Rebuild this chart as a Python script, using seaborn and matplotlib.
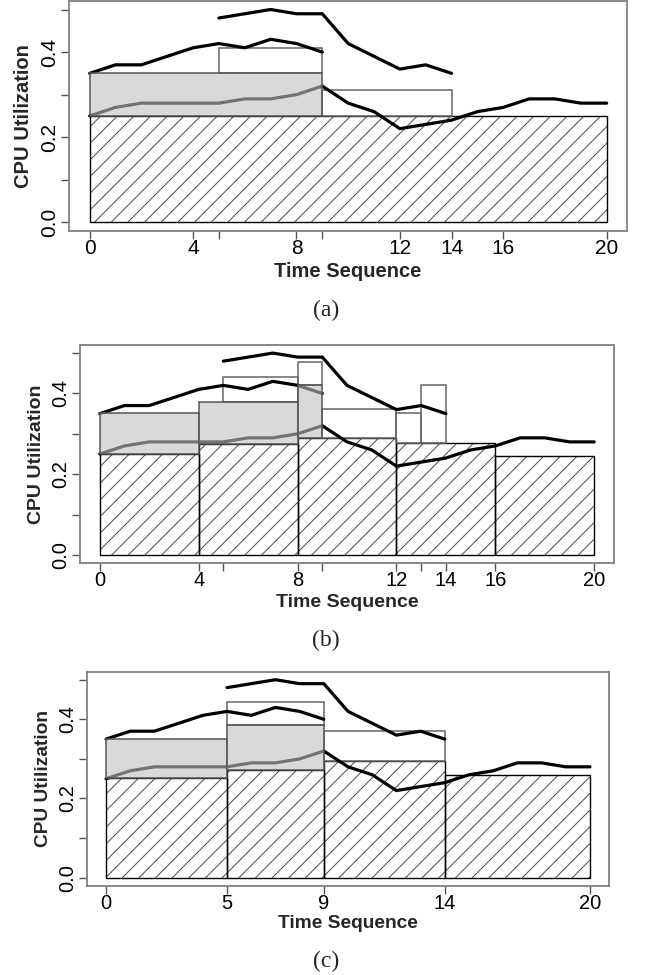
import matplotlib
matplotlib.use("Agg")
import matplotlib.pyplot as plt
import seaborn as sns
import pandas as pd

# ---------------- data ----------------
time_upper1 = [0, 1, 2, 3, 4, 5, 6, 7, 8, 9]
util_upper1 = [0.35, 0.37, 0.37, 0.39, 0.41, 0.42, 0.41, 0.43, 0.42, 0.40]
time_upper2 = [5, 6, 7, 8, 9, 10, 11, 12, 13, 14]
util_upper2 = [0.48, 0.49, 0.50, 0.49, 0.49, 0.42, 0.39, 0.36, 0.37, 0.35]
time_lower = list(range(21))
util_lower = [0.25, 0.27, 0.28, 0.28, 0.28, 0.28, 0.29, 0.29, 0.30, 0.32, 0.28,
              0.26, 0.22, 0.23, 0.24, 0.26, 0.27, 0.29, 0.29, 0.28, 0.28]

# panel (a)
a_base_start = [0]
a_base_end = [20]
a_base_top = [0.25]
a_gray_start = [0]
a_gray_end = [9]
a_gray_low = [0.25]
a_gray_high = [0.35]
a_extra_start = [5, 9]
a_extra_end = [9, 14]
a_extra_low = [0.35, 0.25]
a_extra_high = [0.41, 0.31]
a_ticks = [0, 4, 5, 8, 9, 12, 14, 16, 20]
a_ticklabels = ["0", "4", "", "8", "", "12", "14", "16", "20"]

# panel (b)
b_base_start = [0, 4, 8, 12, 16]
b_base_end = [4, 8, 12, 16, 20]
b_base_top = [0.251, 0.274, 0.289, 0.277, 0.245]
b_gray_start = [0, 4, 8]
b_gray_end = [4, 8, 9]
b_gray_low = [0.251, 0.274, 0.289]
b_gray_high = [0.351, 0.379, 0.42]
b_extra_start = [5, 8, 9, 12, 13]
b_extra_end = [8, 9, 12, 13, 14]
b_extra_low = [0.379, 0.42, 0.289, 0.277, 0.277]
b_extra_high = [0.44, 0.479, 0.362, 0.351, 0.421]
b_ticks = [0, 4, 5, 8, 9, 12, 13, 14, 16, 20]
b_ticklabels = ["0", "4", "", "8", "", "12", "", "14", "16", "20"]

# panel (c)
c_base_start = [0, 5, 9, 14]
c_base_end = [5, 9, 14, 20]
c_base_top = [0.251, 0.273, 0.295, 0.259]
c_gray_start = [0, 5]
c_gray_end = [5, 9]
c_gray_low = [0.251, 0.273]
c_gray_high = [0.35, 0.386]
c_extra_start = [5, 9]
c_extra_end = [9, 14]
c_extra_low = [0.386, 0.295]
c_extra_high = [0.444, 0.37]
c_ticks = [0, 5, 9, 14, 20]
c_ticklabels = ["0", "5", "9", "14", "20"]

y_ticks = [0.0, 0.1, 0.2, 0.3, 0.4, 0.5]
y_ticklabels = ["0.0", "", "0.2", "", "0.4", ""]
captions = ["(a)", "(b)", "(c)"]

# ---------------- style ----------------
sns.set_theme(style="ticks")
plt.rcParams["font.family"] = ["Liberation Sans", "DejaVu Sans"]
plt.rcParams["hatch.linewidth"] = 0.7

W, H = 647, 975
fig = plt.figure(figsize=(W / 100, H / 100), dpi=100)


def add_px_axes(l, r, t, b):
    return fig.add_axes([l / W, 1 - b / H, (r - l) / W, (b - t) / H])


def draw_panel(ax, base, gray, extra, ticks, ticklabels, fs_tick):
    bs, be, bt = base
    widths = [e - s for s, e in zip(bs, be)]
    # hatched base
    ax.bar(bs, bt, width=widths, align="edge", color="none",
           edgecolor="#4a4a4a", linewidth=0, hatch="//", zorder=1)
    ax.bar(bs, bt, width=widths, align="edge", color="none",
           edgecolor="black", linewidth=1.0, zorder=1.5)
    # white outline extras
    es, ee, el, eh = extra
    ax.bar(es, [h - l for l, h in zip(el, eh)], bottom=el,
           width=[e - s for s, e in zip(es, ee)], align="edge",
           color="none", edgecolor="#666666", linewidth=1.1, zorder=2)
    # lines
    df1 = pd.DataFrame({"t": time_upper1, "u": util_upper1})
    df2 = pd.DataFrame({"t": time_upper2, "u": util_upper2})
    df3 = pd.DataFrame({"t": time_lower, "u": util_lower})
    for df in (df1, df2, df3):
        sns.lineplot(data=df, x="t", y="u", color="black", linewidth=2.3,
                     ax=ax, zorder=3)
    # semi-transparent gray blocks
    gs, ge, gl, gh = gray
    ax.bar(gs, [h - l for l, h in zip(gl, gh)], bottom=gl,
           width=[e - s for s, e in zip(gs, ge)], align="edge",
           facecolor=(193 / 255, 193 / 255, 193 / 255, 0.6),
           edgecolor="#555555", linewidth=1.1, zorder=4)

    ax.set_xlim(-0.8, 20.8)
    ax.set_ylim(-0.02, 0.52)
    ax.set_xticks(ticks)
    ax.set_xticklabels(ticklabels, fontsize=fs_tick)
    ax.set_yticks(y_ticks)
    ax.set_yticklabels(y_ticklabels, fontsize=fs_tick, rotation=90,
                       va="center")
    ax.tick_params(axis="both", direction="out", length=5.5, width=1.0,
                   color="#555555", labelcolor="black")
    ax.tick_params(axis="x", pad=0.5)
    ax.tick_params(axis="y", pad=1.5)
    ax.set_xlabel("")
    ax.set_ylabel("")
    for sp in ax.spines.values():
        sp.set_visible(True)
        sp.set_color("#808080")
        sp.set_linewidth(1.3)


panels = [
    dict(px=(69, 627.3, 1, 230.8),
         base=(a_base_start, a_base_end, a_base_top),
         gray=(a_gray_start, a_gray_end, a_gray_low, a_gray_high),
         extra=(a_extra_start, a_extra_end, a_extra_low, a_extra_high),
         ticks=a_ticks, labels=a_ticklabels, fs_tick=15, fs_lab=14.5,
         ylab_x=24, xlab_y=271.5, cap_y=310),
    dict(px=(80, 614, 345, 563),
         base=(b_base_start, b_base_end, b_base_top),
         gray=(b_gray_start, b_gray_end, b_gray_low, b_gray_high),
         extra=(b_extra_start, b_extra_end, b_extra_low, b_extra_high),
         ticks=b_ticks, labels=b_ticklabels, fs_tick=14.5, fs_lab=14,
         ylab_x=36.5, xlab_y=602.7, cap_y=640.5),
    dict(px=(86.7, 609.3, 671.8, 885.6),
         base=(c_base_start, c_base_end, c_base_top),
         gray=(c_gray_start, c_gray_end, c_gray_low, c_gray_high),
         extra=(c_extra_start, c_extra_end, c_extra_low, c_extra_high),
         ticks=c_ticks, labels=c_ticklabels, fs_tick=14.5, fs_lab=13.8,
         ylab_x=43.5, xlab_y=924, cap_y=961.5),
]

for p, cap in zip(panels, captions):
    l, r, t, b = p["px"]
    ax = add_px_axes(l, r, t, b)
    draw_panel(ax, p["base"], p["gray"], p["extra"], p["ticks"], p["labels"],
               p["fs_tick"])
    fig.text(p["ylab_x"] / W, 1 - ((t + b) / 2) / H, "CPU Utilization",
             rotation=90, ha="center", va="center", fontsize=p["fs_lab"],
             fontweight="bold")
    fig.text(((l + r) / 2) / W, 1 - p["xlab_y"] / H, "Time Sequence",
             ha="center", va="center", fontsize=p["fs_lab"], fontweight="bold")
    fig.text(326 / W, 1 - p["cap_y"] / H, cap, ha="center", va="center",
             fontsize=17, family=["Liberation Serif", "DejaVu Serif"])

fig.savefig("out.png", dpi=100)
